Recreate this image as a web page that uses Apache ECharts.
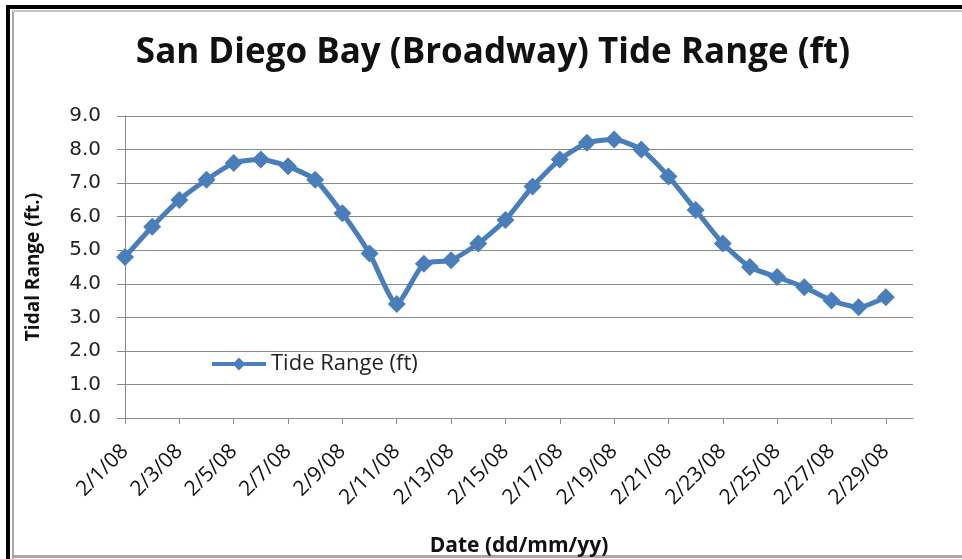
<!DOCTYPE html>
<html>
<head>
<meta charset="utf-8">
<script src="https://cdn.jsdelivr.net/npm/echarts@6/dist/echarts.min.js"></script>
<style>
  html, body { margin: 0; padding: 0; background: #fff; }
  #chart { width: 962px; height: 559px; }
</style>
</head>
<body>
<div id="chart"></div>
<script>
// Daily dates for February 2008
const dates = [
  '2/1/08','2/2/08','2/3/08','2/4/08','2/5/08','2/6/08','2/7/08','2/8/08','2/9/08','2/10/08',
  '2/11/08','2/12/08','2/13/08','2/14/08','2/15/08','2/16/08','2/17/08','2/18/08','2/19/08','2/20/08',
  '2/21/08','2/22/08','2/23/08','2/24/08','2/25/08','2/26/08','2/27/08','2/28/08','2/29/08'
];
// Daily tide range (ft)
const tideRange = [
  4.8, 5.7, 6.5, 7.1, 7.6, 7.7, 7.5, 7.1, 6.1, 4.9,
  3.4, 4.6, 4.7, 5.2, 5.9, 6.9, 7.7, 8.2, 8.3, 8.0,
  7.2, 6.2, 5.2, 4.5, 4.2, 3.9, 3.5, 3.3, 3.6
];
// Labelled ticks: every other day
const dateTicks = dates.map((d, i) => i).filter(i => i % 2 === 0);

const lineColor = '#4a7ebb';
const points = tideRange.map((v, i) => [i, v]);

const chart = echarts.init(document.getElementById('chart'), null, { renderer: 'canvas' });
chart.setOption({
  backgroundColor: '#ffffff',
  animation: false,
  title: {
    text: 'San Diego Bay (Broadway) Tide Range (ft)',
    left: 488,
    textAlign: 'center',
    top: 31,
    textStyle: { fontFamily: 'Open Sans', fontWeight: 'bold', fontSize: 35, color: '#111' }
  },
  legend: {
    left: 205,
    top: 348,
    itemWidth: 54,
    itemHeight: 16,
    itemGap: 4,
    lineStyle: { width: 4 },
    textStyle: { fontFamily: 'Open Sans', fontSize: 22, color: '#222' },
    data: ['Tide Range (ft)']
  },
  grid: { left: 125, right: 49, top: 116, bottom: 141, containLabel: false, outerBoundsMode: 'none' },
  xAxis: {
    type: 'value',
    min: 0,
    max: dates.length,
    name: 'Date (dd/mm/yy)',
    nameLocation: 'middle',
    nameGap: 118,
    nameTextStyle: { fontFamily: 'Open Sans', fontWeight: 'bold', fontSize: 21, color: '#111' },
    splitLine: { show: false },
    axisLine: { show: true, lineStyle: { color: '#8a8a8a', width: 1 } },
    axisTick: { show: true, length: 6, customValues: dateTicks, lineStyle: { color: '#8a8a8a' } },
    axisLabel: {
      customValues: dateTicks,
      rotate: 45,
      margin: 30,
      fontFamily: 'Open Sans',
      fontSize: 21,
      color: '#111',
      formatter: v => dates[v] || ''
    }
  },
  yAxis: {
    type: 'value',
    min: 0,
    max: 9,
    interval: 1,
    name: 'Tidal Range (ft.)',
    nameLocation: 'middle',
    nameGap: 82,
    nameRotate: 90,
    nameTextStyle: { fontFamily: 'Open Sans', fontWeight: 'bold', fontSize: 19, color: '#111' },
    axisLine: { show: true, lineStyle: { color: '#8a8a8a', width: 1 } },
    axisTick: { show: true, length: 8, lineStyle: { color: '#8a8a8a' } },
    splitLine: { show: true, lineStyle: { color: '#8a8a8a', width: 1 } },
    axisLabel: {
      margin: 24,
      fontFamily: 'DejaVu Sans',
      fontSize: 20,
      color: '#222',
      formatter: v => v.toFixed(1)
    }
  },
  series: [{
    name: 'Tide Range (ft)',
    type: 'line',
    data: points,
    smooth: 0.2,
    symbol: 'diamond',
    symbolSize: 18,
    lineStyle: { color: lineColor, width: 5 },
    itemStyle: { color: lineColor },
    z: 3
  }],
  graphic: [
    { type: 'rect', shape: { x: 6, y: 5, width: 4, height: 554 }, style: { fill: '#000' }, silent: true },
    { type: 'rect', shape: { x: 6, y: 5, width: 956, height: 4 }, style: { fill: '#000' }, silent: true },
    { type: 'rect', shape: { x: 12, y: 10, width: 2, height: 549 }, style: { fill: '#a8a8a8' }, silent: true },
    { type: 'rect', shape: { x: 12, y: 10, width: 950, height: 2 }, style: { fill: '#c8c8c8' }, silent: true },
    { type: 'rect', shape: { x: 12, y: 555, width: 950, height: 3 }, style: { fill: '#a8a8a8' }, silent: true }
  ]
});
</script>
</body>
</html>
